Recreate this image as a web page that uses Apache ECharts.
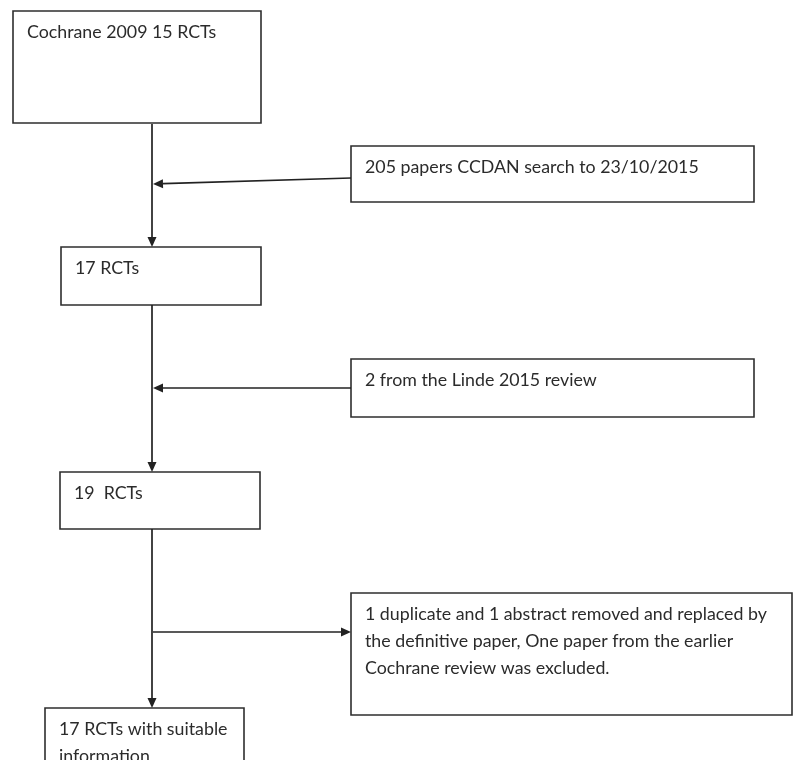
<!DOCTYPE html>
<html><head><meta charset="utf-8">
<script src="https://cdn.jsdelivr.net/npm/echarts@6/dist/echarts.min.js"></script>
<style>html,body{margin:0;padding:0;background:#fff}#c{width:794px;height:760px}</style>
</head><body><div id="c"></div>
<script>
// Flowchart content
const boxTexts = [
  ['Cochrane 2009 15 RCTs'],
  ['205 papers CCDAN search to 23/10/2015'],
  ['17 RCTs'],
  ['2 from the Linde 2015 review'],
  ['19  RCTs'],
  ['1 duplicate and 1 abstract removed and replaced by', 'the definitive paper, One paper from the earlier', 'Cochrane review was excluded.'],
  ['17 RCTs with suitable', 'information']
];
// Box corners in diagram units
const boxLeft   = [13, 351, 61, 351, 60, 351, 45];
const boxTop    = [11, 146, 247, 359, 472, 593, 708];
const boxRight  = [261, 754, 261, 754, 260, 792, 244];
const boxBottom = [123, 202, 305, 417, 529, 715, 790];
// Arrows: from (x,y) to (x,y)
const arrowFromX = [152, 351, 152, 351, 152, 153];
const arrowFromY = [124, 178, 305, 388, 529, 632];
const arrowToX   = [152, 153, 152, 153, 152, 351];
const arrowToY   = [247, 184, 472, 388, 708, 632];

const chart = echarts.init(document.getElementById('c'), null, {renderer: 'canvas'});

const boxData = boxTexts.map((t, i) => [boxLeft[i], boxTop[i], boxRight[i], boxBottom[i], i]);
const arrowData = arrowFromX.map((x, i) => [x, arrowFromY[i], arrowToX[i], arrowToY[i]]);

const FONT = 'Lato, "Open Sans", sans-serif';
const LINE_H = 27;

chart.setOption({
  animation: false,
  grid: {left: 0, right: 0, top: 0, bottom: 0},
  xAxis: {type: 'value', min: 0, max: 794, show: false},
  yAxis: {type: 'value', min: 0, max: 760, inverse: true, show: false},
  series: [
    {
      type: 'custom',
      clip: false,
      data: boxData,
      renderItem: function (params, api) {
        const p0 = api.coord([api.value(0), api.value(1)]);
        const p1 = api.coord([api.value(2), api.value(3)]);
        const idx = api.value(4);
        const lines = boxTexts[idx];
        const children = [{
          type: 'rect',
          shape: {x: p0[0], y: p0[1], width: p1[0] - p0[0], height: p1[1] - p0[1]},
          style: {fill: '#fff', stroke: '#2e2e2e', lineWidth: 1.6}
        }];
        lines.forEach((ln, k) => {
          children.push({
            type: 'text',
            x: p0[0] + 14,
            y: p0[1] + 21 + k * LINE_H,
            style: {text: ln, fill: '#2b2b2b', font: '17.8px ' + FONT, textAlign: 'left', textVerticalAlign: 'middle'}
          });
        });
        return {type: 'group', children: children};
      }
    },
    {
      type: 'custom',
      clip: false,
      data: arrowData,
      renderItem: function (params, api) {
        const a = api.coord([api.value(0), api.value(1)]);
        const b = api.coord([api.value(2), api.value(3)]);
        const dx = b[0] - a[0], dy = b[1] - a[1];
        const len = Math.sqrt(dx * dx + dy * dy);
        const ux = dx / len, uy = dy / len;
        const L = 10, W = 4.5;
        const bx = b[0] - ux * L, by = b[1] - uy * L;
        return {
          type: 'group',
          children: [
            {type: 'line', shape: {x1: a[0], y1: a[1], x2: bx, y2: by}, style: {stroke: '#222', lineWidth: 1.7}},
            {type: 'polygon', shape: {points: [[b[0], b[1]], [bx - uy * W, by + ux * W], [bx + uy * W, by - ux * W]]}, style: {fill: '#222'}}
          ]
        };
      }
    }
  ]
});
</script></body></html>
